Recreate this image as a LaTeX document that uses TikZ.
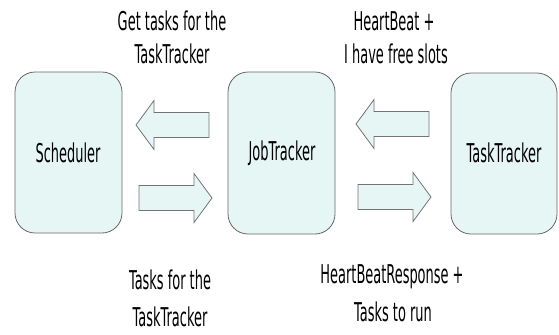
\documentclass[tikz,border=0pt]{standalone}
\usepackage{fontspec}
\setmainfont{DejaVu Sans}[FakeStretch=0.5]
\begin{document}
\begin{tikzpicture}[x=1bp,y=-1bp,
  every node/.style={font=\fontsize{26}{33}\selectfont, inner sep=0pt},
  box/.style={draw=black!60, line width=0.8bp, fill=boxfill, rounded corners=20bp},
  blockarrow/.style={draw=black!55, line width=0.8bp, fill=boxfill},
  label/.style={anchor=base},
  pics/fatarrow/.style={code={
    \draw[blockarrow] (0,-12.5) -- (55,-12.5) -- (55,-24.5) -- (73,0)
      -- (55,24.5) -- (55,12.5) -- (0,12.5) -- cycle;}}]
\definecolor{boxfill}{HTML}{E6F6F5}
\useasboundingbox (0,0) rectangle (559,334);

% the three trackers
\draw[box] (15,72) rectangle (122,233);
\draw[box] (228,72) rectangle (335,234);
\draw[box] (451,73) rectangle (557,234);
\node (sched) at (68,153) {Scheduler};
\node (jt)    at (282,153) {JobTracker};
\node (tt)    at (504,153) {TaskTracker};

% request / response arrows
\pic[rotate=180] at (209,125) {fatarrow};
\pic at (139,198) {fatarrow};
\pic[rotate=180] at (429,124) {fatarrow};
\pic at (358,197) {fatarrow};

% message labels
\node[label] (ql1) at (172,30) {Get tasks for the};
\node[label] (ql2) at (172,63) {TaskTracker};
\node[label] (hb1) at (394,30) {HeartBeat +};
\node[label] (hb2) at (396,63) {I have free slots};
\node[label] (ta1) at (170,289) {Tasks for the};
\node[label] (ta2) at (170,326) {TaskTracker};
\node[label] (hr1) at (392,283) {HeartBeatResponse +};
\node[label] (hr2) at (393,321) {Tasks to run};
\end{tikzpicture}
\end{document}
